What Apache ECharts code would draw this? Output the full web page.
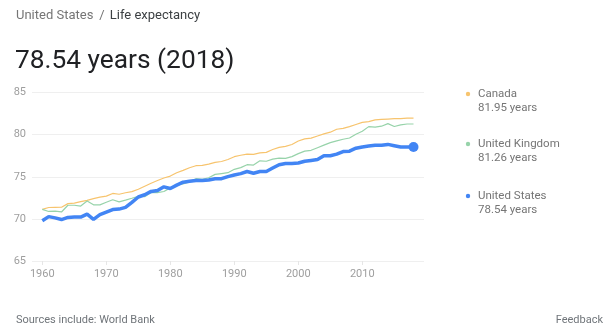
<!DOCTYPE html>
<html>
<head>
<meta charset="utf-8">
<script src="https://cdn.jsdelivr.net/npm/echarts@6/dist/echarts.min.js"></script>
<style>
html,body{margin:0;padding:0;background:#fff;}
#c{width:613px;height:333px;}
</style>
</head>
<body>
<div id="c"></div>
<script>
const years = [];
for (let y = 1960; y <= 2018; y++) years.push(y);
const canada = [71.13,71.35,71.37,71.38,71.81,71.86,72.04,72.20,72.41,72.58,72.70,73.02,72.92,73.10,73.23,73.52,73.88,74.23,74.55,74.85,75.08,75.48,75.76,76.07,76.31,76.35,76.50,76.71,76.81,77.05,77.38,77.55,77.69,77.66,77.83,77.89,78.23,78.48,78.61,78.83,79.24,79.49,79.59,79.84,80.09,80.29,80.64,80.74,80.95,81.20,81.45,81.55,81.75,81.80,81.85,81.90,81.90,81.95,81.95];
const uk = [71.13,70.88,70.93,70.82,71.62,71.62,71.52,72.12,71.67,71.66,71.97,72.27,72.02,72.23,72.45,72.69,72.64,73.14,73.12,73.25,73.68,74.04,74.16,74.40,74.77,74.68,74.88,75.28,75.38,75.48,75.88,76.08,76.43,76.39,76.89,76.84,77.09,77.21,77.19,77.39,77.74,78.04,78.14,78.45,78.75,79.05,79.25,79.45,79.60,80.05,80.40,80.95,80.90,81.00,81.30,80.96,81.16,81.26,81.26];
const us = [69.77,70.27,70.12,69.92,70.17,70.21,70.21,70.56,69.95,70.51,70.81,71.11,71.16,71.36,71.96,72.60,72.86,73.26,73.36,73.80,73.61,74.01,74.36,74.46,74.56,74.56,74.61,74.77,74.77,75.02,75.21,75.37,75.62,75.42,75.62,75.62,76.03,76.43,76.58,76.58,76.64,76.84,76.94,77.04,77.49,77.49,77.69,77.99,78.04,78.39,78.54,78.64,78.74,78.74,78.84,78.69,78.54,78.54,78.54];
const seriesNames = ['Canada','United Kingdom','United States'];
const latestValues = ['81.95','81.26','78.54'];
const xTickLabels = [1960,1970,1980,1990,2000,2010];
const yTicks = [65,70,75,80,85];

const colors = ['#f7c46e','#97d3aa','#4285f4'];
const pairs = arr => arr.map((v,i)=>[years[i], v]);

const chart = echarts.init(document.getElementById('c'), null, {renderer:'canvas'});
const F = 'Roboto, "Noto Sans", Arial, sans-serif';

const legendGraphics = [];
const legendY = [94, 144, 196];
seriesNames.forEach((n,i)=>{
  legendGraphics.push({type:'circle', shape:{cx:468, cy:legendY[i], r:2.2}, style:{fill:colors[i]}});
  legendGraphics.push({type:'text', x:478, y:legendY[i], style:{text:n, fill:'#757575', font:'11.5px '+F, textVerticalAlign:'middle'}});
  legendGraphics.push({type:'text', x:478, y:legendY[i]+14.5, style:{text:latestValues[i]+' years', fill:'#757575', font:'11.5px '+F, textVerticalAlign:'middle'}});
});

chart.setOption({
  animation:false,
  textStyle:{fontFamily:F},
  grid:{left:32, right:189, top:92.5, bottom:72, containLabel:false},
  xAxis:{
    type:'value', min:1958.39, max:2019.64,
    axisLine:{show:false},
    axisTick:{show:true, customValues:xTickLabels, length:4, lineStyle:{color:'#e6e6e6'}},
    axisLabel:{customValues:xTickLabels, formatter:v=>String(v), color:'#9e9e9e', fontSize:11, margin:8, fontFamily:F},
    splitLine:{show:false}
  },
  yAxis:{
    type:'value', min:yTicks[0], max:yTicks[yTicks.length-1], interval:5,
    axisLine:{show:false}, axisTick:{show:false},
    axisLabel:{color:'#9e9e9e', fontSize:11, margin:6, fontFamily:F},
    splitLine:{lineStyle:{color:'#efefef', width:1}}
  },
  series:[
    {name:seriesNames[0], type:'line', data:pairs(canada), showSymbol:false, symbol:'none', lineStyle:{color:colors[0], width:1.2}, z:2},
    {name:seriesNames[1], type:'line', data:pairs(uk), showSymbol:false, symbol:'none', lineStyle:{color:colors[1], width:1.2}, z:3},
    {name:seriesNames[2], type:'line', data:pairs(us), symbol:'circle', symbolSize:(v,p)=> p.dataIndex===us.length-1?10:0,
      showAllSymbol:true, itemStyle:{color:colors[2]}, lineStyle:{color:colors[2], width:3.5}, z:4}
  ],
  graphic:[
    {type:'text', x:16, y:16, style:{
      text:'{a|United States}{s|/}{b|Life expectancy}',
      rich:{a:{fill:'#757575', fontSize:13, fontFamily:F},
            s:{fill:'#757575', fontSize:13, fontFamily:F, padding:[0,5,0,6]},
            b:{fill:'#3c4043', fontSize:13, fontFamily:F}},
      textVerticalAlign:'middle'}},
    {type:'text', x:15, y:61, style:{text:latestValues[2]+' years (2018)', fill:'#202124', font:'26.3px '+F, textVerticalAlign:'middle'}},
    {type:'text', x:16, y:320, style:{text:'Sources include: World Bank', fill:'#70757a', font:'11px '+F, textVerticalAlign:'middle'}},
    {type:'text', x:603, y:320, style:{text:'Feedback', fill:'#70757a', font:'11px '+F, textVerticalAlign:'middle', textAlign:'right'}},
    ...legendGraphics
  ]
});
</script>
</body>
</html>
